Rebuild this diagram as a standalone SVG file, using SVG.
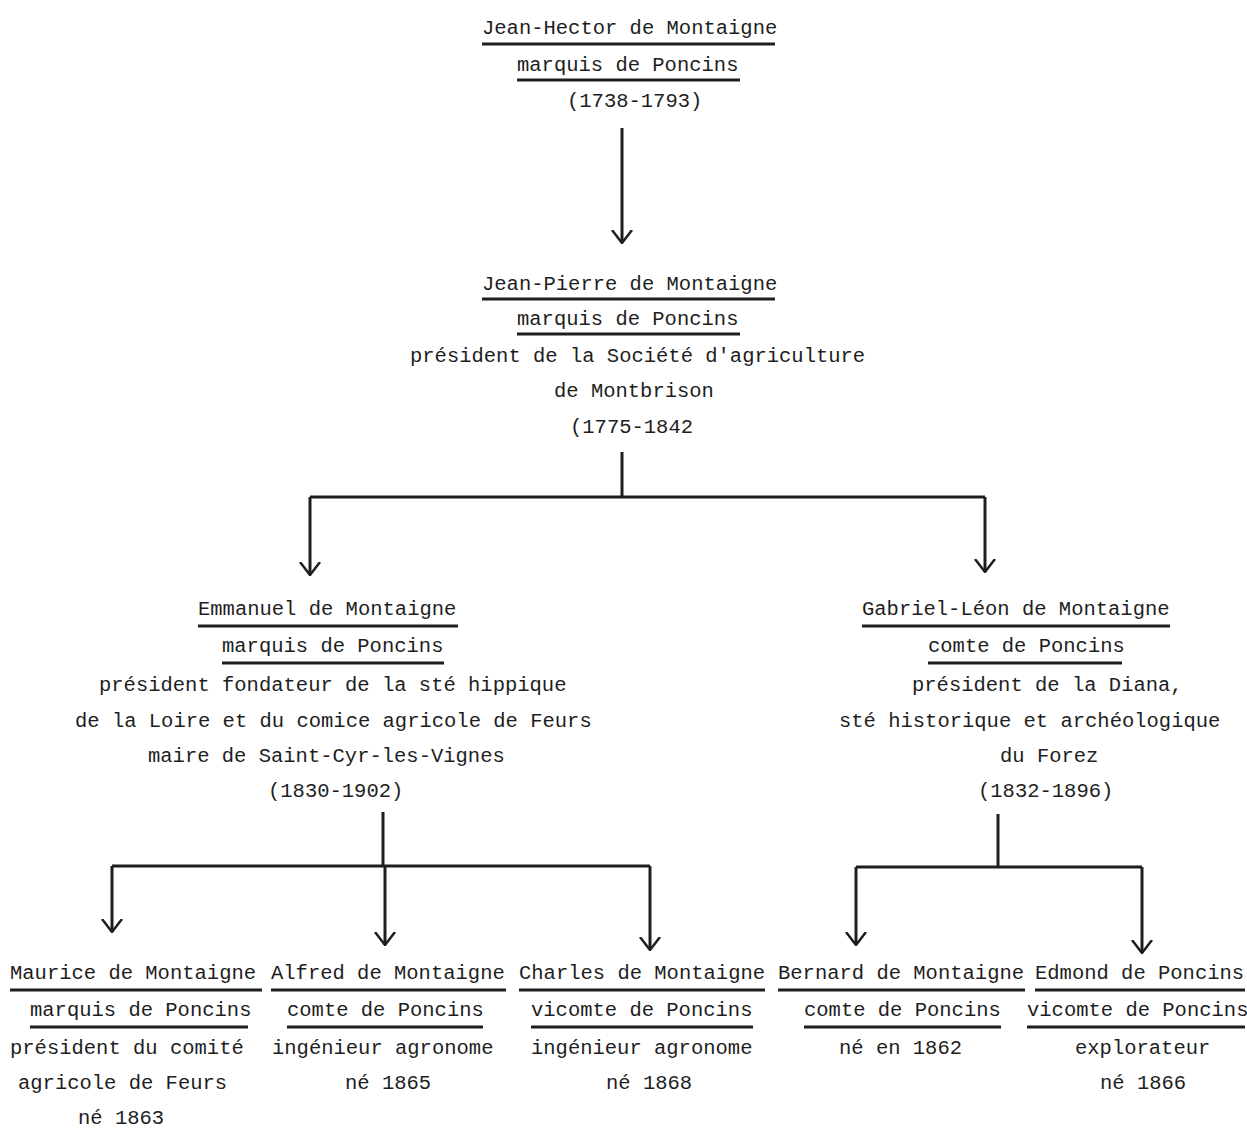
<svg xmlns="http://www.w3.org/2000/svg" width="1247" height="1128" viewBox="0 0 1247 1128">
<style>
text{font-family:"Liberation Mono","DejaVu Sans Mono",monospace;font-size:20.5px;fill:#1e1e1e}
.u{stroke:#1e1e1e;stroke-width:3;fill:none}
.c{stroke:#1e1e1e;stroke-width:3;fill:none}
</style>
<defs>
<marker id="arr" viewBox="0 0 14 22" refX="13" refY="11" markerWidth="14" markerHeight="22" markerUnits="userSpaceOnUse" orient="auto">
<path d="M0,1 L13,11 L0,21" fill="none" stroke="#1e1e1e" stroke-width="2.5"/>
</marker>
</defs>
<rect width="1247" height="1128" fill="#ffffff"/>
<g id="connectors">
<line class="c" x1="622" y1="128" x2="622" y2="243" marker-end="url(#arr)"/>
<line class="c" x1="622" y1="452" x2="622" y2="497"/>
<line class="c" x1="310" y1="497" x2="985" y2="497"/>
<line class="c" x1="310" y1="497" x2="310" y2="575" marker-end="url(#arr)"/>
<line class="c" x1="985" y1="497" x2="985" y2="572" marker-end="url(#arr)"/>
<line class="c" x1="383" y1="812" x2="383" y2="866"/>
<line class="c" x1="112" y1="866" x2="650" y2="866"/>
<line class="c" x1="112" y1="866" x2="112" y2="932" marker-end="url(#arr)"/>
<line class="c" x1="385" y1="866" x2="385" y2="945" marker-end="url(#arr)"/>
<line class="c" x1="650" y1="866" x2="650" y2="950" marker-end="url(#arr)"/>
<line class="c" x1="998" y1="814" x2="998" y2="867"/>
<line class="c" x1="856" y1="867" x2="1142" y2="867"/>
<line class="c" x1="856" y1="867" x2="856" y2="945" marker-end="url(#arr)"/>
<line class="c" x1="1142" y1="867" x2="1142" y2="953" marker-end="url(#arr)"/>
</g>
<g id="jean-hector">
<text x="482" y="34">Jean-Hector de Montaigne</text>
<line class="u" x1="482" y1="44" x2="775" y2="44"/>
<text x="517" y="71">marquis de Poncins</text>
<line class="u" x1="517" y1="80" x2="740" y2="80"/>
<text x="567" y="107">(1738-1793)</text>
</g>
<g id="jean-pierre">
<text x="482" y="290">Jean-Pierre de Montaigne</text>
<line class="u" x1="482" y1="299" x2="775" y2="299"/>
<text x="517" y="325">marquis de Poncins</text>
<line class="u" x1="517" y1="334" x2="740" y2="334"/>
<text x="410" y="362">président de la Société d'agriculture</text>
<text x="554" y="397">de Montbrison</text>
<text x="570" y="433">(1775-1842</text>
</g>
<g id="emmanuel">
<text x="198" y="615">Emmanuel de Montaigne</text>
<line class="u" x1="198" y1="626" x2="458" y2="626"/>
<text x="222" y="652">marquis de Poncins</text>
<line class="u" x1="222" y1="663" x2="444" y2="663"/>
<text x="99" y="691">président fondateur de la sté hippique</text>
<text x="75" y="727">de la Loire et du comice agricole de Feurs</text>
<text x="148" y="762">maire de Saint-Cyr-les-Vignes</text>
<text x="268" y="797">(1830-1902)</text>
</g>
<g id="gabriel">
<text x="862" y="615">Gabriel-Léon de Montaigne</text>
<line class="u" x1="862" y1="626" x2="1170" y2="626"/>
<text x="928" y="652">comte de Poncins</text>
<line class="u" x1="928" y1="663" x2="1122" y2="663"/>
<text x="912" y="691">président de la Diana,</text>
<text x="839" y="727">sté historique et archéologique</text>
<text x="1000" y="762">du Forez</text>
<text x="978" y="797">(1832-1896)</text>
</g>
<g id="maurice">
<text x="10" y="979">Maurice de Montaigne</text>
<line class="u" x1="10" y1="990" x2="262" y2="990"/>
<text x="30" y="1016">marquis de Poncins</text>
<line class="u" x1="30" y1="1027" x2="248" y2="1027"/>
<text x="10" y="1054">président du comité</text>
<text x="18" y="1089">agricole de Feurs</text>
<text x="78" y="1124">né 1863</text>
</g>
<g id="alfred">
<text x="271" y="979">Alfred de Montaigne</text>
<line class="u" x1="271" y1="990" x2="506" y2="990"/>
<text x="287" y="1016">comte de Poncins</text>
<line class="u" x1="287" y1="1027" x2="483" y2="1027"/>
<text x="272" y="1054">ingénieur agronome</text>
<text x="345" y="1089">né 1865</text>
</g>
<g id="charles">
<text x="519" y="979">Charles de Montaigne</text>
<line class="u" x1="519" y1="990" x2="765" y2="990"/>
<text x="531" y="1016">vicomte de Poncins</text>
<line class="u" x1="531" y1="1027" x2="753" y2="1027"/>
<text x="531" y="1054">ingénieur agronome</text>
<text x="606" y="1089">né 1868</text>
</g>
<g id="bernard">
<text x="778" y="979">Bernard de Montaigne</text>
<line class="u" x1="778" y1="990" x2="1025" y2="990"/>
<text x="804" y="1016">comte de Poncins</text>
<line class="u" x1="804" y1="1027" x2="1001" y2="1027"/>
<text x="839" y="1054">né en 1862</text>
</g>
<g id="edmond">
<text x="1035" y="979">Edmond de Poncins</text>
<line class="u" x1="1035" y1="990" x2="1245" y2="990"/>
<text x="1027" y="1016">vicomte de Poncins</text>
<line class="u" x1="1027" y1="1027" x2="1245" y2="1027"/>
<text x="1075" y="1054">explorateur</text>
<text x="1100" y="1089">né 1866</text>
</g>
</svg>
